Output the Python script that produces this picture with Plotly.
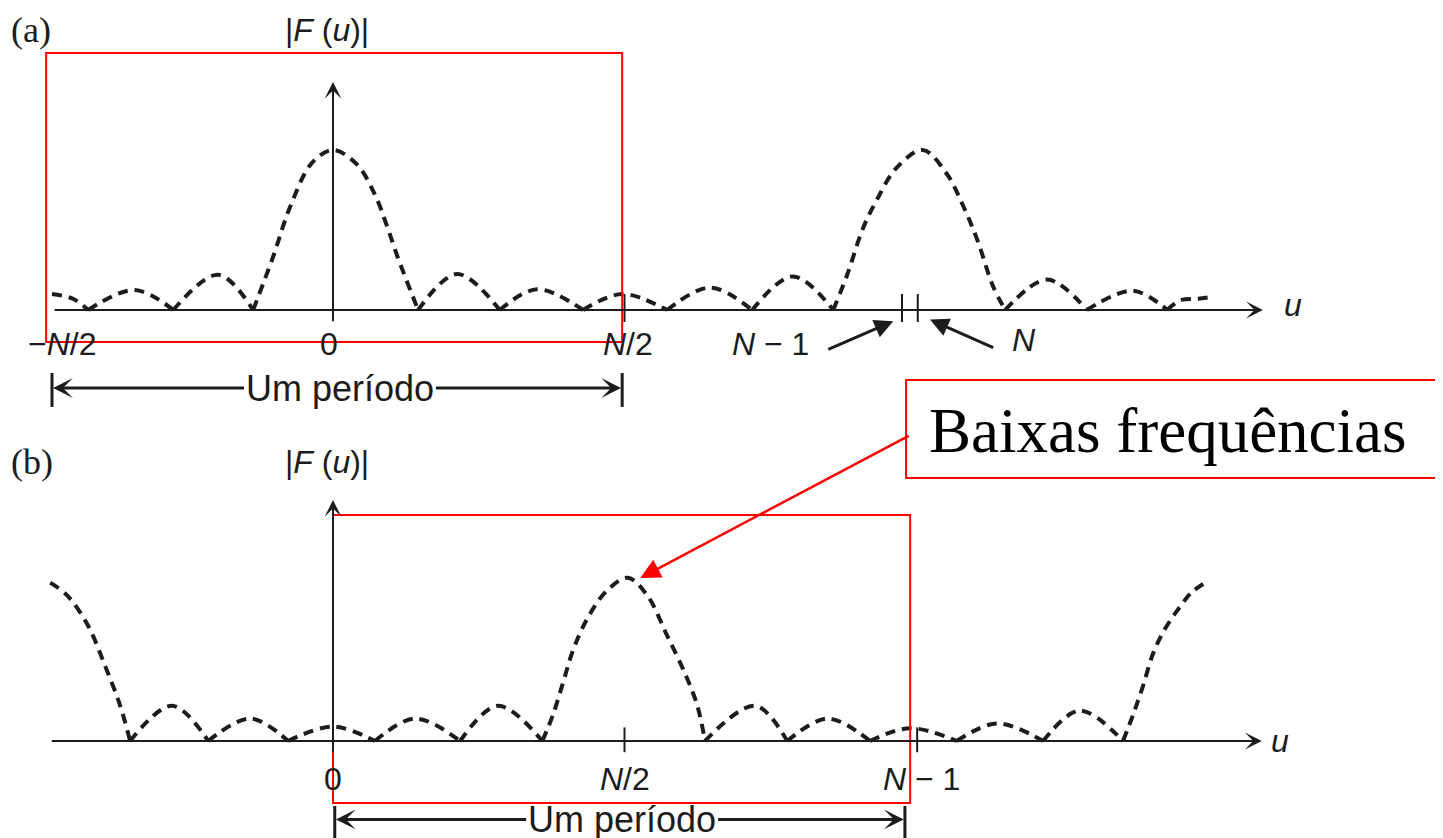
import plotly.graph_objects as go

# ---------------- data ----------------
# u in units where one period N = 100 ; |F(u)| normalised to the main-lobe height
# (None separates the individual lobes so each arch keeps its cusp at the zeros)
u_a = [-48.2, -44.6, -42.0, None,
       -42.0, -34.0, -27.4, None,
       -27.4, -19.7, -13.7, None,
       -13.7, -10.3, -7.4, -3.6, 0.0, 4.1, 7.2, 9.3, 11.1, 14.6, None,
       14.6, 21.3, 28.6, None,
       28.6, 35.0, 42.9, None,
       42.9, 49.6, 57.3, None,
       57.3, 64.7, 71.9, None,
       71.9, 78.9, 85.8, None,
       85.8, 88.2, 90.9, 93.3, 96.7, 101.2, 105.3, 108.1, 110.5, 113.2, 115.3, None,
       115.3, 122.5, 129.3, None,
       129.3, 137.2, 143.1, None,
       143.1, 145.3, 148.3, 150.4]
F_a = [0.10, 0.07, 0.0, None,
       0.0, 0.125, 0.0, None,
       0.0, 0.22, 0.0, None,
       0.0, 0.33, 0.64, 0.92, 1.0, 0.91, 0.72, 0.52, 0.33, 0.0, None,
       0.0, 0.225, 0.0, None,
       0.0, 0.13, 0.0, None,
       0.0, 0.10, 0.0, None,
       0.0, 0.14, 0.0, None,
       0.0, 0.21, 0.0, None,
       0.0, 0.22, 0.51, 0.69, 0.89, 1.0, 0.85, 0.65, 0.44, 0.15, 0.0, None,
       0.0, 0.19, 0.0, None,
       0.0, 0.12, 0.0, None,
       0.0, 0.06, 0.07, 0.08]

u_b = [-48.5, -45.6, -42.0, -39.1, -36.5, -34.8, None,
       -34.8, -27.6, -21.4, None,
       -21.4, -14.2, -7.7, None,
       -7.7, 0.0, 7.2, None,
       7.2, 14.1, 21.8, None,
       21.8, 28.3, 35.9, None,
       35.9, 37.7, 39.5, 41.2, 43.7, 47.0, 50.6, 53.9, 57.3, 60.4, 62.5, 63.8, None,
       63.8, 72.4, 77.9, None,
       77.9, 84.9, 92.1, None,
       92.1, 99.0, 107.0, None,
       107.0, 113.9, 121.8, None,
       121.8, 128.1, 135.5, None,
       135.5, 137.2, 138.9, 140.7, 142.7, 145.3, 147.3, 150.1]
F_b = [0.99, 0.91, 0.72, 0.47, 0.22, 0.0, None,
       0.0, 0.22, 0.0, None,
       0.0, 0.14, 0.0, None,
       0.0, 0.09, 0.0, None,
       0.0, 0.14, 0.0, None,
       0.0, 0.22, 0.0, None,
       0.0, 0.16, 0.37, 0.57, 0.77, 0.94, 1.02, 0.91, 0.66, 0.42, 0.22, 0.0, None,
       0.0, 0.22, 0.0, None,
       0.0, 0.14, 0.0, None,
       0.0, 0.08, 0.0, None,
       0.0, 0.11, 0.0, None,
       0.0, 0.19, 0.0, None,
       0.0, 0.16, 0.34, 0.55, 0.70, 0.84, 0.93, 1.0]

# tick marks (u positions) and their labels
tick_a_pos = [50.0, 97.6, 100.3]
label_a_pos = [-46.5, -0.7, 50.6, 75.0, 118.5]
label_a_text = ["\u2212<i>N</i>/2", "0", "<i>N</i>/2", "<i>N</i> \u2212 1", "<i>N</i>"]

tick_b_pos = [50.0, 100.2]
label_b_pos = [0.0, 50.1, 100.9]
label_b_text = ["0", "<i>N</i>/2", "<i>N</i> \u2212 1"]

# ---------------- figure ----------------
INK = "#1c1c1c"
SANS = "Liberation Sans, Arial, sans-serif"
SERIF = "Liberation Serif, Times New Roman, serif"

fig = go.Figure()
fig.add_trace(go.Scatter(x=u_a, y=F_a, mode="lines", yaxis="y", connectgaps=False,
                         line=dict(color=INK, width=4, dash="10px,7px", shape="spline", smoothing=1.0),
                         hoverinfo="skip"))
fig.add_trace(go.Scatter(x=u_b, y=F_b, mode="lines", yaxis="y2", connectgaps=False,
                         line=dict(color=INK, width=4, dash="10px,7px", shape="spline", smoothing=1.0),
                         hoverinfo="skip"))

shapes = []
ann = []


def arrow(x, y, ax, ay, yref, width=2, size=1.4, head=3, color=INK):
    ann.append(dict(x=x, y=y, ax=ax, ay=ay, xref="x", yref=yref, axref="x", ayref=yref,
                    text="", showarrow=True, arrowhead=head, arrowsize=size,
                    arrowwidth=width, arrowcolor=color, standoff=0, startstandoff=0))


def label(x, y, text, yref, size=32, font=SANS, xanchor="center", color=INK):
    ann.append(dict(x=x, y=y, xref="x", yref=yref, text=text, showarrow=False,
                    xanchor=xanchor, yanchor="middle",
                    font=dict(family=font, size=size, color=color)))


def vline(x, y0, y1, yref, width=2, color=INK):
    shapes.append(dict(type="line", xref="x", yref=yref, x0=x, x1=x, y0=y0, y1=y1,
                       line=dict(color=color, width=width)))


# ----- panel (a) -----
arrow(159.5, 0.0, -48.0, 0.0, "y", width=2, size=1.4)          # u axis
arrow(0.0, 1.425, 0.0, -0.08, "y", width=2, size=1.4)          # |F| axis
for p in tick_a_pos:
    vline(p, -0.075, 0.10, "y", width=2)
for p, t in zip(label_a_pos, label_a_text):
    label(p, -0.215 if t != "<i>N</i>" else -0.19, t, "y")
label(164.6, 0.03, "<i>u</i>", "y")
arrow(96.1, -0.07, 84.7, -0.25, "y", width=3, size=1.25, head=2)   # N-1 pointer
arrow(102.4, -0.06, 113.5, -0.24, "y", width=3, size=1.25, head=2)  # N pointer
label(-55.6, 1.75, "(a)", "y", size=36, font=SERIF, xanchor="left")
label(-1.0, 1.75, "|<i>F</i> (<i>u</i>)|", "y", size=32)
# one period
vline(-48.2, -0.394, -0.606, "y", width=3)
vline(49.6, -0.394, -0.606, "y", width=3)
arrow(-48.0, -0.4875, -15.0, -0.4875, "y", width=3, size=1.1)
arrow(49.4, -0.4875, 17.4, -0.4875, "y", width=3, size=1.1)
label(1.2, -0.4875, "Um período", "y", size=36)
# red frame
shapes.append(dict(type="rect", xref="x", yref="y", x0=-49.2, x1=49.6, y0=-0.2, y1=1.606,
                   line=dict(color="#ff0000", width=2)))

# ----- panel (b) -----
arrow(159.3, 0.0, -48.5, 0.0, "y2", width=2, size=1.4)         # u axis
arrow(0.0, 1.506, 0.0, -0.075, "y2", width=2, size=1.4)        # |F| axis
for p in tick_b_pos:
    vline(p, -0.07, 0.085, "y2", width=2)
for p, t in zip(label_b_pos, label_b_text):
    label(p, -0.235, t, "y2")
label(162.5, 0.0, "<i>u</i>", "y2")
label(-55.6, 1.744, "(b)", "y2", size=36, font=SERIF, xanchor="left")
label(-1.0, 1.744, "|<i>F</i> (<i>u</i>)|", "y2", size=32)
# one period
vline(0.3, -0.406, -0.62, "y2", width=3)
vline(98.1, -0.406, -0.62, "y2", width=3)
arrow(0.5, -0.49, 33.4, -0.49, "y2", width=3, size=1.1)
arrow(97.9, -0.49, 65.8, -0.49, "y2", width=3, size=1.1)
label(49.6, -0.49, "Um período", "y2", size=36)
# red frame
shapes.append(dict(type="rect", xref="x", yref="y2", x0=0.0, x1=99.0, y0=-0.3875, y1=1.4125,
                   line=dict(color="#ff0000", width=2)))

# ----- callout -----
shapes.append(dict(type="rect", xref="x", yref="y2", x0=98.3, x1=193.0, y0=1.644, y1=2.256,
                   line=dict(color="#ff0000", width=2), fillcolor="rgba(0,0,0,0)"))
label(101.9, 1.94, "Baixas frequências", "y2", size=63, font=SERIF, xanchor="left", color="#000000")
arrow(52.7, 1.019, 99.0, 1.9125, "y2", width=2.5, size=1.6, head=2, color="#ff0000")

# the page body adds an 8 px offset, so the ranges are set for figure px = page px - 8
fig.update_layout(
    width=1443, height=838,
    margin=dict(l=0, r=0, t=0, b=0),
    paper_bgcolor="white", plot_bgcolor="white",
    showlegend=False,
    xaxis=dict(range=[-55.746, 191.767], visible=False, fixedrange=True),
    yaxis=dict(range=[-3.35, 1.8875], visible=False, fixedrange=True),
    yaxis2=dict(range=[-0.65625, 4.58125], visible=False, fixedrange=True,
                overlaying="y"),
    shapes=shapes,
    annotations=ann,
)

fig.write_html("out.html")
